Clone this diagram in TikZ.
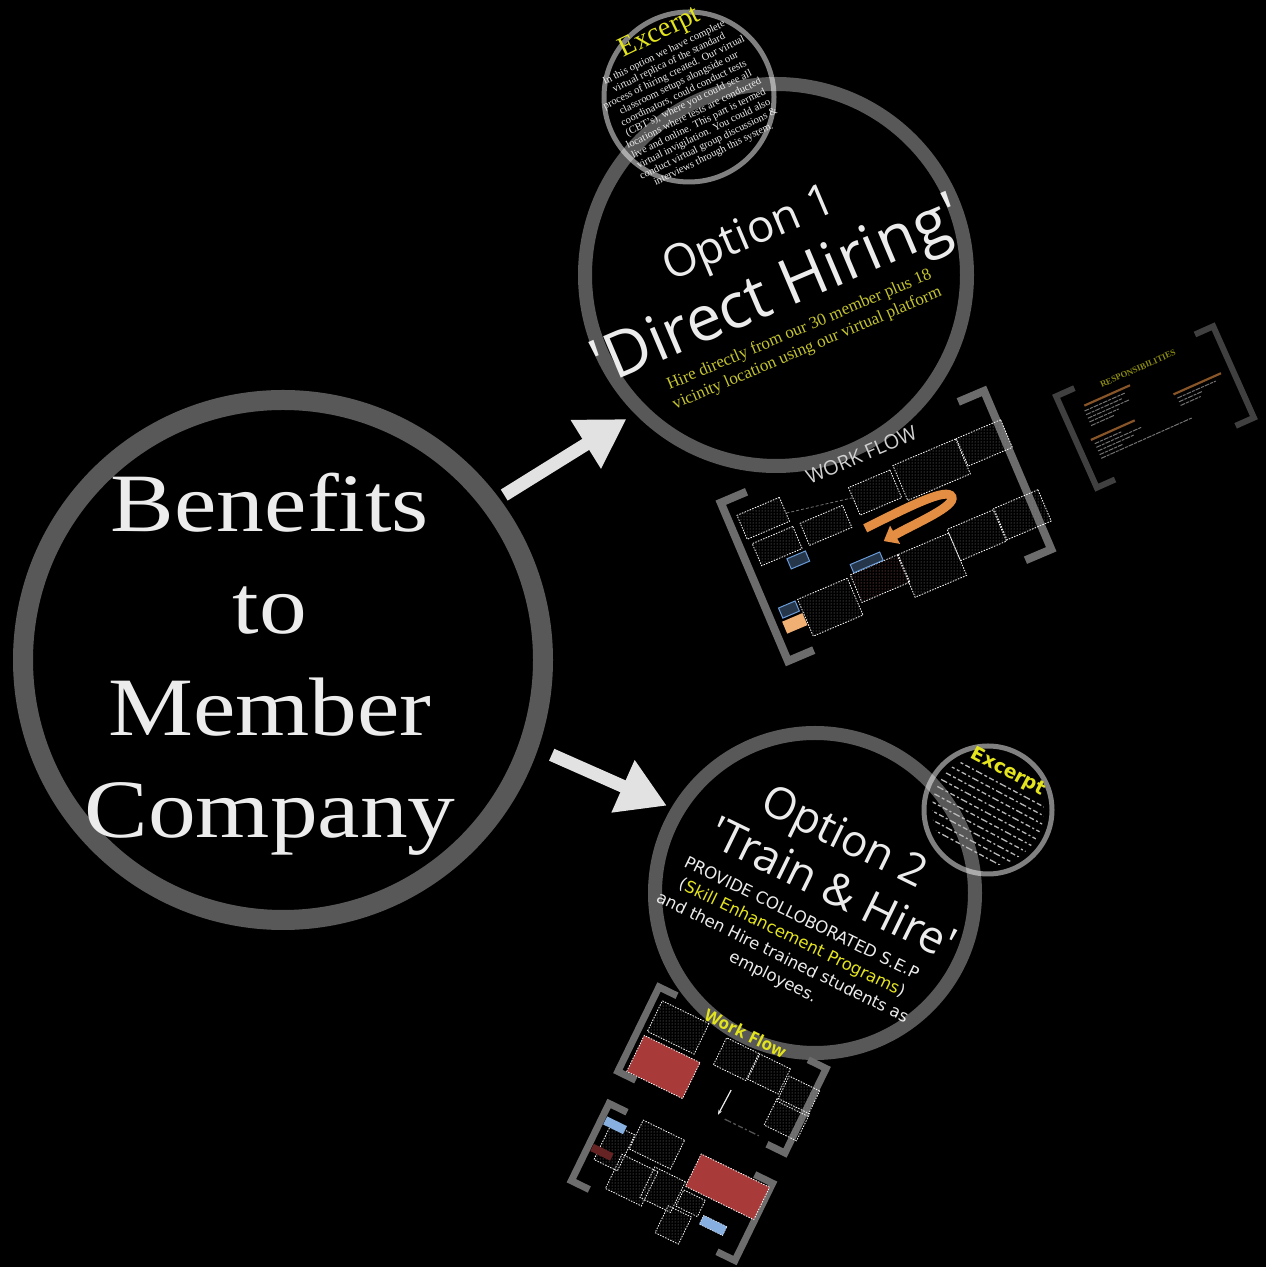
\documentclass[tikz,border=0pt]{standalone}
\usepackage{fontspec}
\setmainfont{Liberation Serif}
\newfontfamily\titlefont{Open Sans}
\newfontfamily\plainsans{DejaVu Sans}
\newfontfamily\benefitsfont[FakeStretch=1.15]{Liberation Serif}
\usetikzlibrary{arrows.meta,patterns}

\definecolor{ringgray}{RGB}{88,88,88}
\definecolor{bracketgray}{RGB}{108,108,108}
\definecolor{textwhite}{RGB}{236,236,236}
\definecolor{arrowwhite}{RGB}{226,226,226}
\definecolor{hiyellow}{RGB}{228,228,30}
\definecolor{noteyellow}{RGB}{196,196,48}
\definecolor{flowred}{RGB}{168,58,58}
\definecolor{flowblue}{RGB}{105,155,215}
\definecolor{floworange}{RGB}{228,142,68}
\definecolor{flowpeach}{RGB}{240,175,115}

\newcommand{\straightq}{\XeTeXglyph\XeTeXcharglyph"0027\relax}

\begin{document}
\begin{tikzpicture}[x=1pt, y=1pt,
    ring/.style={circle, draw=ringgray, inner sep=0pt, outer sep=0pt},
    excerptring/.style={circle, draw=white, draw opacity=.5, line width=5pt, inner sep=0pt, outer sep=0pt},
    bigarrow/.style={draw=arrowwhite, line width=13pt, -{Triangle[width=54pt,length=48pt]}},
    lbl/.style={text=textwhite, inner sep=0pt},
    bracket/.style={draw=bracketgray, line width=8pt},
    wfbox/.style={draw=white, line width=.8pt, dash pattern=on 1.5pt off 1.3pt, pattern=dots, pattern color=white!55!black, inner sep=0pt},
    redbox/.style={wfbox, fill=flowred},
    bluebox/.style={draw=flowblue, line width=1pt, fill=flowblue!35!black, inner sep=0pt},
    wflink/.style={draw=white!45!black, line width=.8pt, dash pattern=on 3pt off 2pt},
    uturn/.style={draw=floworange, line width=9pt, -{Triangle[width=20pt,length=13pt]}},
    smallarrow/.style={draw=textwhite, line width=1.2pt, -{Stealth[length=5pt]}},
    resphead/.style={draw=floworange, line width=2.2pt},
    respline/.style={draw=white!75!black, line width=1pt, dash pattern=on 5pt off 1pt on 3pt off 1pt},
    scribble/.style={draw=white!72!black, line width=1.3pt, dash pattern=on 7pt off 2.5pt on 3pt off 2.5pt on 5pt off 2.5pt on 2pt off 2.5pt}
]
\useasboundingbox (0,0) rectangle (1266,1267);
\fill[black] (0,0) rectangle (1266,1267);

% main circles
\node[ring, line width=20pt, minimum size=520pt] (benefits) at (283,607) {};
\node[ring, line width=14pt, minimum size=382pt] (opt1) at (776,992) {};
\node[ring, line width=14pt, minimum size=320pt] (opt2) at (815,374) {};

\node[lbl, font=\benefitsfont\fontsize{83}{102}\selectfont, align=center] (benefitslbl) at (270,603) {Benefits\\to\\Member\\Company};

\draw[bigarrow, shorten <=16pt, shorten >=17pt] (benefits.37) -- (opt1.225);
\draw[bigarrow, shorten <=25pt, shorten >=12pt] (benefits.-19) -- (opt2.149);

% option 1
\begin{scope}[shift={(opt1.center)}, rotate=23, transform shape]
\node[lbl, font=\titlefont\fontsize{45}{54}\selectfont] (opt1title) at (-9,46) {Option 1};
\node[lbl, font=\titlefont\fontsize{63}{76}\selectfont] (opt1name) at (-5,-19) {\straightq Direct Hiring\straightq};
\node[lbl, text=noteyellow, font=\fontsize{17}{20}\selectfont, align=center] (opt1note) at (0,-70) {Hire directly from our 30 member plus 18\\vicinity location using our virtual platform};
\end{scope}

% option 2
\begin{scope}[shift={(opt2.center)}, rotate=-26, transform shape]
\node[lbl, font=\titlefont\fontsize{44}{53}\selectfont] (opt2title) at (2,60) {Option 2};
\node[lbl, font=\titlefont\fontsize{45}{54}\selectfont] (opt2name) at (14,13) {\straightq Train \& Hire\straightq};
\node[lbl, font=\plainsans\fontsize{16.5}{21.7}\selectfont, align=center] (opt2note) at (-1,-62) {PROVIDE COLLOBORATED S.E.P\\(\textcolor{hiyellow}{Skill Enhancement Programs})\\and then Hire trained students as\\employees.};
\end{scope}

% work flow, option 1
\begin{scope}[shift={(886,741)}, rotate=23, transform shape]
\draw[bracket] (-115,86) -- (-143,86) -- (-143,-86) -- (-115,-86);
\draw[bracket] (115,86) -- (143,86) -- (143,-86) -- (115,-86);
\node[lbl, text=white!82!black, font=\titlefont\fontsize{20}{24}\selectfont] (wftitle) at (5,75) {WORK FLOW};
\node[wfbox, minimum width=48pt, minimum height=30pt] (wfA) at (123,38) {};
\node[wfbox, minimum width=68pt, minimum height=38pt] (wfB) at (64,34) {};
\node[wfbox, minimum width=45pt, minimum height=30pt] (wfC) at (3,35) {};
\node[wfbox, minimum width=46pt, minimum height=26pt] (wfD) at (-110,55) {};
\node[wfbox, minimum width=46pt, minimum height=24pt] (wfE) at (-55,24) {};
\node[wfbox, minimum width=44pt, minimum height=24pt] (wfF) at (-108,24) {};
\node[bluebox, minimum width=20pt, minimum height=11pt] (wfG) at (-94,3) {};
\node[wfbox, minimum width=50pt, minimum height=34pt] (wfH) at (80,-44) {};
\node[wfbox, minimum width=48pt, minimum height=34pt] (wfI) at (130,-43) {};
\node[wfbox, minimum width=56pt, minimum height=46pt] (wfJ) at (27,-54) {};
\node[wfbox, pattern color=flowred!70!white, minimum width=52pt, minimum height=30pt] (wfK) at (-26,-46) {};
\node[bluebox, minimum width=32pt, minimum height=9pt] (wfL) at (-32,-26) {};
\node[wfbox, minimum width=54pt, minimum height=40pt] (wfM) at (-83,-53) {};
\node[bluebox, minimum width=18pt, minimum height=11pt] (wfN) at (-122,-39) {};
\node[fill=flowpeach, minimum width=22pt, minimum height=13pt, inner sep=0pt] (wfO) at (-122,-54) {};
\draw[wflink] (wfD) -- (wfC);
\draw[uturn] (-20,6) .. controls (30,9) and (72,12) .. (72,1) .. controls (72,-9) and (30,-9) .. (-8,-13);
\end{scope}

% responsibilities
\begin{scope}[shift={(1155,860)}, rotate=24, transform shape, opacity=.6]
\draw[bracket, line width=6pt] (-66,50) -- (-86,50) -- (-86,-50) -- (-66,-50);
\draw[bracket, line width=6pt] (66,50) -- (86,50) -- (86,-50) -- (66,-50);
\node[lbl, text=hiyellow, font=\bfseries\fontsize{8.7}{10}\selectfont] (resptitle) at (0,42) {RESPONSIBILITIES};
\draw[resphead] (-64,30) -- (-14,30);
\foreach \yy/\xe in {25/-22, 21/-26, 17/-20, 13/-34, 9/-40}
  \draw[respline] (-66,\yy) -- (\xe,\yy);
\draw[resphead] (22,4) -- (74,4);
\foreach \yy/\xe in {-1/66, -5/50, -9/46}
  \draw[respline] (24,\yy) -- (\xe,\yy);
\draw[resphead] (-72,-4) -- (-24,-4);
\foreach \yy/\xe in {-9/-40, -13/-20, -17/-30, -21/-44, -25/30}
  \draw[respline] (-70,\yy) -- (\xe,\yy);
\end{scope}

% work flow, option 2
\begin{scope}[shift={(722,197)}, rotate=-26, transform shape]
\draw[bracket, line width=7pt] (-73,47) -- (-93,47) -- (-93,-47) -- (-73,-47);
\draw[bracket, line width=7pt] (73,47) -- (93,47) -- (93,-47) -- (73,-47);
\node[wfbox, minimum width=52pt, minimum height=34pt] (flowA) at (-58,19) {};
\node[redbox, minimum width=62pt, minimum height=40pt] (flowB) at (-54,-23) {};
\node[wfbox, minimum width=36pt, minimum height=30pt] (flowC) at (8,16) {};
\node[wfbox, minimum width=34pt, minimum height=28pt] (flowD) at (44,17) {};
\node[wfbox, minimum width=34pt, minimum height=28pt] (flowE) at (80,10) {};
\node[wfbox, minimum width=36pt, minimum height=30pt] (flowF) at (80,-16) {};
\node[lbl, text=hiyellow, font=\titlefont\bfseries\fontsize{17}{20}\selectfont] (flowtitle) at (5,43) {Work Flow};
\coordinate (flowdn1) at (17,-14);
\coordinate (flowdn2) at (16,-42);
\draw[smallarrow] (flowdn1) -- (flowdn2);
\draw[scribble, opacity=.45] (24,-43) -- (62,-43);
\end{scope}

\begin{scope}[shift={(672,85)}, rotate=-26, transform shape]
\draw[bracket, line width=7pt] (-71,43) -- (-91,43) -- (-91,-43) -- (-71,-43);
\draw[bracket, line width=7pt] (71,43) -- (91,43) -- (91,-43) -- (71,-43);
\node[wfbox, minimum width=26pt, minimum height=40pt] (stepB) at (-67,6) {};
\node[fill=flowblue!80!white, minimum width=22pt, minimum height=9pt, inner sep=0pt] (stepA) at (-76,26) {};
\node[fill=flowred!60!black, minimum width=22pt, minimum height=8pt, inner sep=0pt] (stepC) at (-76,-4) {};
\node[wfbox, minimum width=46pt, minimum height=32pt] (stepD) at (-30,27) {};
\node[wfbox, minimum width=40pt, minimum height=38pt] (stepE) at (-37,-16) {};
\node[wfbox, minimum width=34pt, minimum height=34pt] (stepF) at (-5,-11) {};
\node[redbox, minimum width=76pt, minimum height=36pt] (stepG) at (52,20) {};
\node[wfbox, minimum width=26pt, minimum height=30pt] (stepH) at (20,-38) {};
\node[wfbox, minimum width=24pt, minimum height=18pt] (stepI) at (26,-11) {};
\node[fill=flowblue!80!white, draw=white, dash pattern=on 1.5pt off 1.3pt, minimum width=26pt, minimum height=10pt, inner sep=0pt] (stepJ) at (56,-21) {};
\end{scope}

% excerpts
\node[excerptring, minimum size=170pt] (excerpt1) at (689,1170) {};
\node[excerptring, minimum size=128pt] (excerpt2) at (988,457) {};

\begin{scope}[shift={(excerpt1.center)}, rotate=26, transform shape]
\node[lbl, text=hiyellow, font=\fontsize{28}{30}\selectfont] (ex1title) at (2,70) {Excerpt};
\node[lbl, font=\fontsize{10.5}{11.3}\selectfont, align=center] (ex1text) at (-3,-6) {In this option we have complete\\virtual replica of the standard\\process of hiring created. Our virtual\\classroom setups alongside our\\coordinators, could conduct tests\\(CBT's), where you could see all\\locations where tests are conducted\\live and online. This part is termed\\virtual invigilation. You could also\\conduct virtual group discussions \&\\interviews through this system.};
\end{scope}

\begin{scope}[shift={(excerpt2.center)}, rotate=-28, transform shape]
\node[lbl, text=hiyellow, font=\plainsans\bfseries\fontsize{19}{21}\selectfont] (ex2title) at (0,43) {Excerpt};
\begin{scope}
\clip (0,0) circle (56);
\foreach \yy in {29,21,...,-45}
  \draw[scribble] (-56,\yy) -- (56,\yy);
\end{scope}
\end{scope}
\end{tikzpicture}
\end{document}
